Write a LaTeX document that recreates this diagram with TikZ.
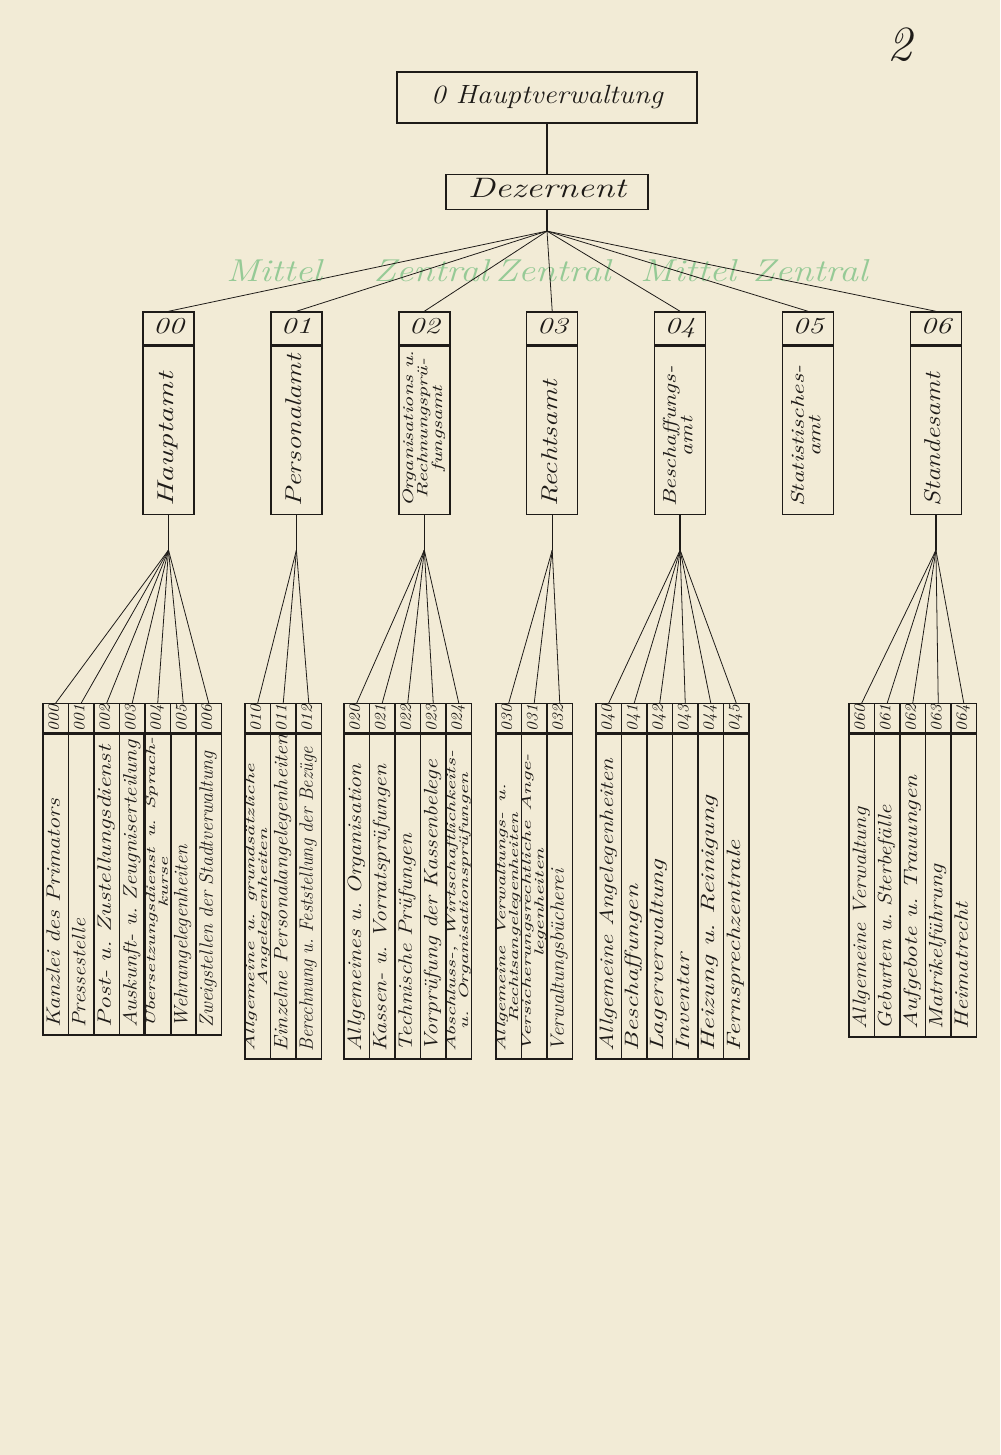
\documentclass[tikz,border=0pt]{standalone}
\usepackage{fontspec}
\usepackage{graphicx}
\usepackage{tikz}
\usetikzlibrary{positioning}

\definecolor{paper}{RGB}{242,235,214}
\definecolor{ink}{RGB}{30,27,24}
\definecolor{pencil}{RGB}{150,202,150}

\frenchspacing
\newcommand{\hand}{\itshape}
\renewcommand{\arraystretch}{0.9}
\newcommand{\hw}[2][1.25]{\scalebox{#1}[1]{\begin{tabular}{@{}c@{}}#2\end{tabular}}}
\newcommand{\twoline}[2][1.5]{\fontsize{7.5}{7.5}\selectfont\renewcommand{\arraystretch}{0.88}\hw[#1]{#2}}

\tikzset{
  cellbox/.style={draw=ink, line width=0.8pt, inner sep=0pt, text=ink},
  topbox/.style={cellbox, font=\hand\fontsize{15}{15}\selectfont},
  amtnr/.style={cellbox, minimum width=1.02cm, minimum height=0.66cm, font=\hand\fontsize{13}{13}\selectfont},
  amtname/.style={cellbox, rotate=90, anchor=east, minimum height=1.02cm, inner xsep=0.15cm, text width=3.06cm, align=left, font=\hand\fontsize{13}{13}\selectfont},
  subnr/.style={cellbox, rotate=90, anchor=east, minimum width=0.58cm, minimum height=0.51cm, font=\hand\fontsize{9}{9}\selectfont},
  subtxt/.style={cellbox, rotate=90, anchor=east, minimum height=0.51cm, inner xsep=0.15cm, align=left, font=\hand\fontsize{11}{11}\selectfont},
  fan/.style={draw=ink, line width=0.45pt},
  stem/.style={draw=ink, line width=0.8pt},
  pencilnote/.style={text=pencil, inner sep=0pt, font=\hand\fontsize{18}{18}\selectfont}
}

\begin{document}
\begin{tikzpicture}
	\useasboundingbox (0,0) rectangle (20,-29.1);
	\fill[paper] (0,0) rectangle (20,-29.1);

	% pencil notes and page number
	\foreach \w/\x [count=\k] in {Mittel/5.48, Zentral/8.62, Zentral/11.06, Mittel/13.76, Zentral/16.2}
		\node[pencilnote] (note\k) at (\x,-5.5) {\hw[1.2]{\w}};
	\node[text=ink, font=\hand\fontsize{28}{28}\selectfont] (page) at (18.0,-0.9) {2};

	% top
	\node[topbox, minimum width=6cm, minimum height=1.02cm] (haupt) at (10.94,-1.95) {\hw[1.1]{0 Hauptverwaltung}};
	\node[topbox, minimum width=4.04cm, minimum height=0.7cm, font=\hand\fontsize{16}{16}\selectfont] (dez) [below=1cm of haupt] {\hw[1.3]{Dezernent}};
	\coordinate[below=0.42cm of dez] (fan0);
	\draw[stem] (haupt) -- (dez);
	\draw[stem] (dez) -- (fan0);

	% aemter
	\node[amtnr] (nr00) at (3.37,-6.57) {\hw[1.35]{00}};
	\node[amtnr] (nr01) [right=1.51cm of nr00] {\hw[1.35]{01}};
	\node[amtnr] (nr02) [right=1.51cm of nr01] {\hw[1.35]{02}};
	\node[amtnr] (nr03) [right=1.51cm of nr02] {\hw[1.35]{03}};
	\node[amtnr] (nr04) [right=1.51cm of nr03] {\hw[1.35]{04}};
	\node[amtnr] (nr05) [right=1.51cm of nr04] {\hw[1.35]{05}};
	\node[amtnr] (nr06) [right=1.51cm of nr05] {\hw[1.35]{06}};

	\node[amtname] (amt00) at (nr00.south) {\hw[1.4]{Hauptamt}};
	\node[amtname] (amt01) at (nr01.south) {\hw[1.25]{Personalamt}};
	\node[amtname, font=\hand\fontsize{8.5}{8.5}\selectfont] (amt02) at (nr02.south) {\hw[1.42]{Organisations u.\\Rechnungsprü-\\fungsamt}};
	\node[amtname] (amt03) at (nr03.south) {\hw[1.27]{Rechtsamt}};
	\node[amtname, font=\hand\fontsize{10.5}{10.5}\selectfont] (amt04) at (nr04.south) {\hw[1.27]{Beschaffungs-\\amt}};
	\node[amtname, font=\hand\fontsize{10.5}{10.5}\selectfont] (amt05) at (nr05.south) {\hw[1.34]{Statistisches-\\amt}};
	\node[amtname] (amt06) at (nr06.south) {\hw[1.2]{Standesamt}};

	\foreach \a in {00,01,02,03,04,05,06}
		\draw[fan] (fan0) -- (nr\a.north);
	\foreach \a in {00,01,02,03,04,06} {
		\coordinate[below=0.7cm of amt\a.west] (fan\a);
		\draw[stem] (amt\a.west) -- (fan\a);
	}

	% 00
	\foreach \nr/\txt [count=\i from 0] in {
		000/{\hw[1.25]{Kanzlei des Primators}},
		001/{\hw[1.14]{Pressestelle}},
		002/{\hw[1.32]{Post- u. Zustellungsdienst}},
		003/{\hw[1.18]{Auskunft- u. Zeugniserteilung}},
		004/{\twoline[1.55]{Übersetzungsdienst u. Sprach-\\kurse}},
		005/{\hw[1.07]{Wehrangelegenheiten}},
		006/{\hw[1.02]{Zweigstellen der Stadtverwaltung}}} {
		\node[subnr] (nr\nr) at ({1.115+0.51*\i},-14.06) {\hw[1.05]{\nr}};
		\node[subtxt, text width=5.72cm] (sub\nr) at (nr\nr.west) {\txt};
		\draw[fan] (fan00) -- (nr\nr.east);
	}
	% 01
	\foreach \nr/\txt [count=\i from 0] in {
		010/{\twoline[1.6]{Allgemeine u. grundsätzliche\\Angelegenheiten}},
		011/{\hw[1.15]{Einzelne Personalangelegenheiten}},
		012/{\hw[0.96]{Berechnung u. Feststellung der Bezüge}}} {
		\node[subnr] (nr\nr) at ({5.155+0.51*\i},-14.06) {\hw[1.05]{\nr}};
		\node[subtxt, text width=6.2cm] (sub\nr) at (nr\nr.west) {\txt};
		\draw[fan] (fan01) -- (nr\nr.east);
	}
	% 02
	\foreach \nr/\txt [count=\i from 0] in {
		020/{\hw[1.23]{Allgemeines u. Organisation}},
		021/{\hw[1.21]{Kassen- u. Vorratsprüfungen}},
		022/{\hw[1.2]{Technische Prüfungen}},
		023/{\hw[1.23]{Vorprüfung der Kassenbelege}},
		024/{\twoline[1.55]{Abschluss-, Wirtschaftlichkeits-\\u. Organisationsprüfungen}}} {
		\node[subnr] (nr\nr) at ({7.135+0.51*\i},-14.06) {\hw[1.05]{\nr}};
		\node[subtxt, text width=6.2cm] (sub\nr) at (nr\nr.west) {\txt};
		\draw[fan] (fan02) -- (nr\nr.east);
	}
	% 03
	\foreach \nr/\txt [count=\i from 0] in {
		030/{\twoline[1.55]{Allgemeine Verwaltungs- u.\\Rechtsangelegenheiten}},
		031/{\twoline[1.6]{Versicherungsrechtliche Ange-\\legenheiten}},
		032/{\hw[1.09]{Verwaltungsbücherei}}} {
		\node[subnr] (nr\nr) at ({10.175+0.51*\i},-14.06) {\hw[1.05]{\nr}};
		\node[subtxt, text width=6.2cm] (sub\nr) at (nr\nr.west) {\txt};
		\draw[fan] (fan03) -- (nr\nr.east);
	}
	% 04
	\foreach \nr/\txt [count=\i from 0] in {
		040/{\hw[1.28]{Allgemeine Angelegenheiten}},
		041/{\hw[1.41]{Beschaffungen}},
		042/{\hw[1.43]{Lagerverwaltung}},
		043/{\hw[1.4]{Inventar}},
		044/{\hw[1.45]{Heizung u. Reinigung}},
		045/{\hw[1.39]{Fernsprechzentrale}}} {
		\node[subnr] (nr\nr) at ({12.175+0.51*\i},-14.06) {\hw[1.05]{\nr}};
		\node[subtxt, text width=6.2cm] (sub\nr) at (nr\nr.west) {\txt};
		\draw[fan] (fan04) -- (nr\nr.east);
	}
	% 06
	\foreach \nr/\txt [count=\i from 0] in {
		060/{\hw[1.17]{Allgemeine Verwaltung}},
		061/{\hw[1.18]{Geburten u. Sterbefälle}},
		062/{\hw[1.3]{Aufgebote u. Trauungen}},
		063/{\hw[1.25]{Matrikelführung}},
		064/{\hw[1.28]{Heimatrecht}}} {
		\node[subnr] (nr\nr) at ({17.235+0.51*\i},-14.06) {\hw[1.05]{\nr}};
		\node[subtxt, text width=5.76cm] (sub\nr) at (nr\nr.west) {\txt};
		\draw[fan] (fan06) -- (nr\nr.east);
	}
\end{tikzpicture}
\end{document}
